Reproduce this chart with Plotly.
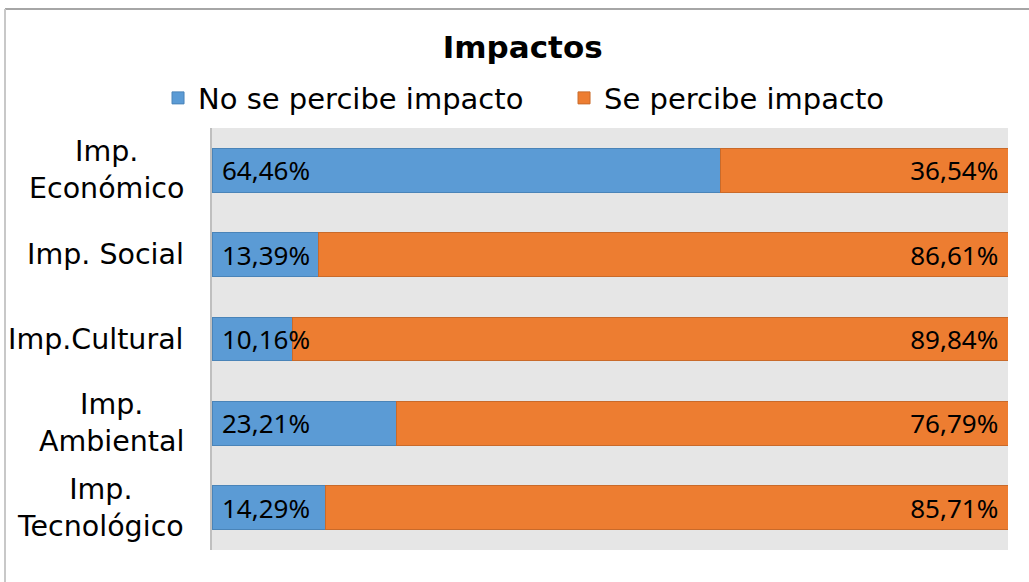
import plotly.graph_objects as go

categories = ["Imp. Económico", "Imp. Social", "Imp.Cultural", "Imp. Ambiental", "Imp. Tecnológico"]
tick_labels = ["Imp.<br>Económico", "Imp. Social", "Imp.Cultural", "Imp.<br>Ambiental", "Imp.<br>Tecnológico"]
no_impacto = [64.46, 13.39, 10.16, 23.21, 14.29]
si_impacto = [36.54, 86.61, 89.84, 76.79, 85.71]
series_names = ["No se percibe impacto", "Se percibe impacto"]

def fmt(v):
    return f"{v:.2f}".replace(".", ",") + "%"

NB = "\u00a0"
label_font = dict(family="Noto Sans", size=26, color="#000000")
cat_font = "DejaVu Sans"

fig = go.Figure()
fig.add_trace(go.Bar(
    y=categories, x=no_impacto, orientation="h", name=series_names[0],
    marker=dict(color="#5b9bd5", line=dict(color="#4a84b8", width=1)),
    textposition="none",
))
fig.add_trace(go.Bar(
    y=categories, x=si_impacto, orientation="h", name=series_names[1],
    marker=dict(color="#ed7d31", line=dict(color="#c96a2a", width=1)),
    text=[fmt(v) + NB for v in si_impacto], textposition="inside", insidetextanchor="end",
    textfont=label_font, textangle=0,
))

annotations = []
# labels of the first series, anchored at the start of the axis, drawn above both bars
for c, v in zip(categories, no_impacto):
    annotations.append(dict(
        x=0, xref="x", xshift=8, y=c, yref="y", text=fmt(v), showarrow=False,
        xanchor="left", yanchor="middle", font=label_font,
    ))
for c, t in zip(categories, tick_labels):
    annotations.append(dict(
        x=0, xref="paper", xshift=-26, y=c, yref="y", text=t, showarrow=False,
        xanchor="right", yanchor="middle", align="center",
        font=dict(family=cat_font, size=28.5, color="#000000"),
    ))

fig.update_layout(
    width=1029, height=582,
    barmode="stack", barnorm="percent", bargap=0.48,
    paper_bgcolor="#ffffff", plot_bgcolor="#e6e6e6",
    margin=dict(l=212, r=21, t=128, b=32),
    title=dict(text="<b>Impactos</b>", x=0.508, xanchor="center", y=0.919, yanchor="middle",
               font=dict(family=cat_font, size=31, color="#000000")),
    legend=dict(orientation="h", x=-0.0678, xanchor="left", y=1.071, yanchor="middle",
                font=dict(family=cat_font, size=29, color="#000000"),
                entrywidth=361, entrywidthmode="pixels",
                traceorder="normal", itemwidth=30, bgcolor="rgba(0,0,0,0)"),
    xaxis=dict(range=[0, 100], showticklabels=False, showgrid=False, zeroline=False,
               fixedrange=True),
    yaxis=dict(autorange="reversed", showticklabels=False, showgrid=False, zeroline=False,
               showline=True, linecolor="#bfbfbf", linewidth=2, ticks=""),
    annotations=annotations,
    uniformtext=dict(minsize=26, mode="show"),
    shapes=[
        dict(type="line", xref="paper", yref="paper", x0=-207/796, x1=1.03, y0=1 + 119/422, y1=1 + 119/422,
             line=dict(color="#a6a6a6", width=2)),
        dict(type="line", xref="paper", yref="paper", x0=-207/796, x1=-207/796, y0=1 + 119/422, y1=-0.1,
             line=dict(color="#c8c8c8", width=2)),
    ],
)

fig.write_html("out.html", config={"displayModeBar": False},
               post_script="document.body.style.margin='0';")
